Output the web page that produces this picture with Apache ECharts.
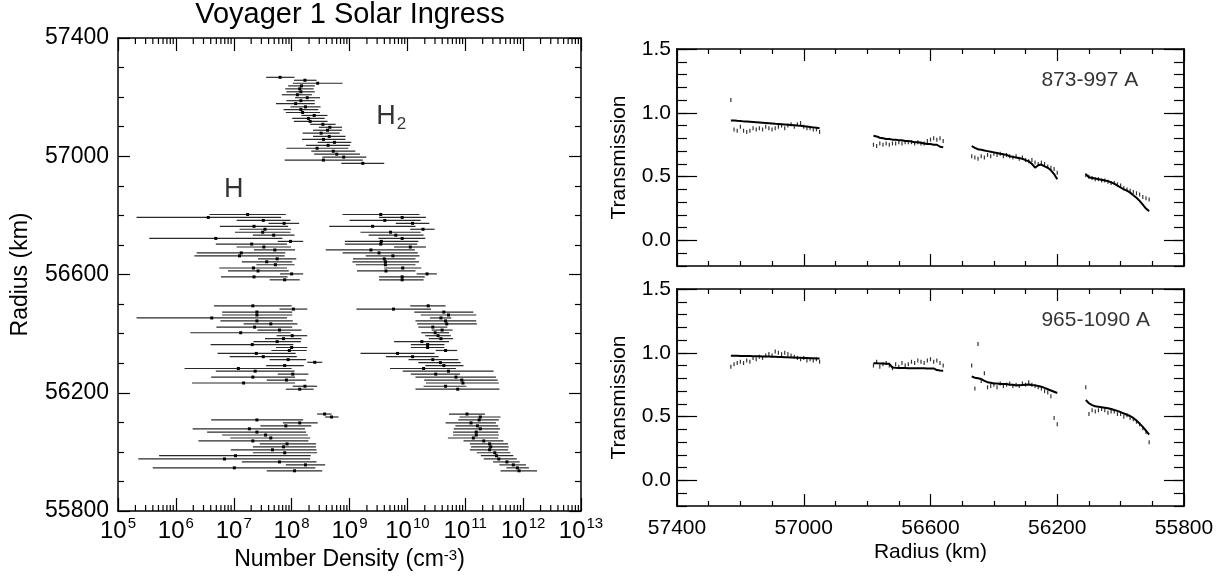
<!DOCTYPE html>
<html>
<head>
<meta charset="utf-8">
<title>Voyager 1 Solar Ingress</title>
<script src="https://cdn.jsdelivr.net/npm/echarts@6/dist/echarts.min.js"></script>
<style>
  html, body { margin: 0; padding: 0; background: #fff; }
  #chart { width: 1229px; height: 577px; }
</style>
</head>
<body>
<div id="chart"></div>
<script>
// ---------------- Left panel: retrieved number densities ----------------
// Each row: [radius (km), lower bound, value, upper bound]; densities as log10(cm^-3)
const h2Top = [
  [57267, 7.56, 7.80, 8.05], [57257, 8.04, 8.23, 8.43], [57247, 8.02, 8.45, 8.88],
  [57238, 7.94, 8.17, 8.40], [57228, 7.89, 8.14, 8.38], [57218, 7.91, 8.16, 8.40],
  [57208, 7.83, 8.10, 8.35], [57198, 8.06, 8.27, 8.49], [57188, 7.91, 8.16, 8.40],
  [57178, 7.73, 8.07, 8.40], [57167, 7.98, 8.24, 8.50], [57158, 7.86, 8.16, 8.46],
  [57148, 7.90, 8.19, 8.49], [57138, 8.17, 8.39, 8.62], [57128, 8.01, 8.29, 8.57],
  [57118, 8.04, 8.32, 8.62], [57108, 8.32, 8.54, 8.76], [57098, 8.47, 8.66, 8.87],
  [57088, 8.37, 8.62, 8.87], [57078, 8.19, 8.51, 8.83], [57067, 8.37, 8.65, 8.93],
  [57057, 8.18, 8.55, 8.93], [57047, 8.45, 8.74, 9.03], [57037, 8.25, 8.63, 9.01],
  [57027, 7.91, 8.44, 8.98], [57017, 8.34, 8.72, 9.10], [57007, 8.39, 8.78, 9.18],
  [56997, 8.53, 8.90, 9.29], [56987, 7.88, 8.55, 9.23], [56976, 8.86, 9.23, 9.60]
];
const hUpper = [
  [56803, 6.58, 7.24, 7.90], [56793, 5.32, 6.56, 7.82], [56783, 7.05, 7.51, 7.98],
  [56773, 7.60, 7.87, 8.13], [56763, 6.76, 7.35, 7.94], [56753, 7.10, 7.54, 7.99],
  [56743, 7.02, 7.50, 7.98], [56733, 7.33, 7.69, 8.05], [56722, 5.54, 6.69, 7.84],
  [56712, 7.76, 7.98, 8.20], [56703, 6.69, 7.31, 7.92], [56693, 7.05, 7.52, 7.99],
  [56683, 7.35, 7.71, 8.06], [56673, 6.36, 7.13, 7.89], [56663, 6.32, 7.10, 7.88],
  [56653, 7.42, 7.75, 8.08], [56643, 7.14, 7.57, 8.01], [56633, 7.39, 7.72, 8.05],
  [56622, 6.75, 7.34, 7.92], [56612, 6.90, 7.42, 7.95], [56602, 7.80, 8.00, 8.20],
  [56592, 6.78, 7.35, 7.93], [56582, 7.62, 7.88, 8.14]
];
const h2Upper = [
  [56803, 8.88, 9.54, 10.21], [56793, 9.51, 9.91, 10.32], [56783, 9.00, 9.61, 10.23],
  [56773, 9.80, 10.09, 10.38], [56763, 8.65, 9.40, 10.14], [56753, 10.05, 10.27, 10.47],
  [56743, 9.19, 9.71, 10.23], [56733, 9.33, 9.80, 10.28], [56722, 9.50, 9.91, 10.31],
  [56712, 8.92, 9.55, 10.19], [56703, 8.92, 9.54, 10.17], [56693, 9.77, 10.05, 10.32],
  [56683, 8.59, 9.37, 10.13], [56673, 8.88, 9.51, 10.18], [56663, 9.28, 9.75, 10.21],
  [56653, 9.06, 9.60, 10.14], [56643, 9.05, 9.62, 10.20], [56633, 9.11, 9.62, 10.14],
  [56622, 9.60, 9.92, 10.24], [56612, 9.13, 9.63, 10.14], [56602, 10.16, 10.34, 10.51],
  [56592, 9.51, 9.91, 10.30], [56582, 9.51, 9.91, 10.28]
];
const hMiddle = [
  [56494, 6.66, 7.33, 8.00], [56483, 7.79, 8.03, 8.27], [56473, 6.80, 7.40, 8.01],
  [56463, 6.80, 7.40, 8.01], [56453, 5.32, 6.62, 7.92], [56443, 6.77, 7.40, 8.02],
  [56433, 7.17, 7.64, 8.10], [56422, 6.70, 7.36, 8.01], [56412, 7.41, 7.79, 8.17],
  [56403, 6.25, 7.12, 7.98], [56393, 7.74, 8.01, 8.27], [56383, 7.54, 7.86, 8.17],
  [56373, 7.34, 7.75, 8.16], [56363, 6.60, 7.32, 8.03], [56353, 7.73, 8.00, 8.27],
  [56343, 7.65, 7.96, 8.26], [56333, 6.72, 7.39, 8.07], [56322, 6.93, 7.51, 8.09],
  [56312, 7.62, 7.94, 8.25], [56303, 8.27, 8.40, 8.53], [56292, 7.56, 7.88, 8.21],
  [56282, 6.15, 7.08, 8.00], [56273, 6.69, 7.37, 8.05], [56263, 7.76, 8.02, 8.29],
  [56253, 6.61, 7.33, 8.06], [56243, 7.57, 7.91, 8.25], [56233, 6.28, 7.17, 8.06],
  [56222, 8.02, 8.23, 8.44], [56212, 7.90, 8.14, 8.38]
];
const h2Middle = [
  [56494, 10.05, 10.36, 10.66], [56483, 9.12, 9.76, 10.41], [56473, 10.12, 10.63, 11.14],
  [56463, 10.23, 10.71, 11.19], [56453, 10.39, 10.58, 10.76], [56443, 10.14, 10.66, 11.19],
  [56433, 10.17, 10.68, 11.20], [56422, 10.19, 10.44, 10.69], [56412, 10.42, 10.60, 10.78],
  [56403, 10.24, 10.48, 10.72], [56393, 10.31, 10.53, 10.75], [56383, 10.37, 10.58, 10.79],
  [56373, 9.77, 10.25, 10.72], [56363, 10.06, 10.35, 10.64], [56353, 10.06, 10.35, 10.64],
  [56343, 10.49, 10.66, 10.86], [56333, 9.19, 9.83, 10.47], [56322, 9.63, 10.09, 10.54],
  [56312, 10.02, 10.44, 10.88], [56302, 10.19, 10.57, 10.92], [56292, 10.31, 10.63, 10.97],
  [56282, 9.70, 10.28, 10.84], [56273, 9.92, 10.71, 11.49], [56263, 10.06, 10.49, 10.91],
  [56253, 10.14, 10.84, 11.53], [56243, 10.29, 10.94, 11.56], [56233, 10.32, 10.96, 11.58],
  [56222, 10.28, 10.66, 11.02], [56212, 10.14, 10.87, 11.59]
];
const hLower = [
  [56128, 8.44, 8.57, 8.69], [56118, 8.58, 8.69, 8.81], [56108, 6.61, 7.40, 8.20],
  [56098, 7.85, 8.14, 8.45], [56088, 7.46, 7.90, 8.34], [56078, 6.29, 7.27, 8.23],
  [56067, 6.54, 7.40, 8.25], [56057, 6.80, 7.55, 8.28], [56047, 6.94, 7.64, 8.32],
  [56037, 6.39, 7.33, 8.29], [56027, 7.45, 7.92, 8.42], [56017, 7.33, 7.86, 8.42],
  [56007, 6.95, 7.67, 8.43], [55997, 7.33, 7.88, 8.44], [55987, 5.71, 7.03, 8.33],
  [55976, 5.35, 6.84, 8.32], [55966, 7.14, 7.79, 8.43], [55956, 7.90, 8.24, 8.58],
  [55946, 5.60, 7.01, 8.41], [55936, 7.57, 8.05, 8.53]
];
const h2Lower = [
  [56128, 10.72, 11.03, 11.34], [56118, 10.90, 11.26, 11.61], [56108, 10.88, 11.24, 11.58],
  [56098, 10.66, 11.10, 11.53], [56088, 10.83, 11.21, 11.57], [56078, 10.80, 11.26, 11.60],
  [56067, 10.79, 11.19, 11.57], [56057, 10.79, 11.19, 11.58], [56047, 10.70, 11.14, 11.57],
  [56037, 10.97, 11.32, 11.66], [56027, 11.08, 11.42, 11.74], [56017, 11.10, 11.44, 11.75],
  [56007, 11.08, 11.42, 11.74], [55997, 11.20, 11.51, 11.78], [55987, 11.27, 11.54, 11.83],
  [55976, 11.32, 11.58, 11.89], [55966, 11.48, 11.72, 11.94], [55956, 11.59, 11.83, 12.05],
  [55946, 11.71, 11.90, 12.10], [55936, 11.61, 11.93, 12.24]
];

// axis ranges and tick labels
const densityExpTicks = [5, 6, 7, 8, 9, 10, 11, 12, 13];   // labelled as 10^n
const radiusTicks = [55800, 56200, 56600, 57000, 57400];
const transmissionTicks = [0, 0.5, 1.0, 1.5];
const minorMantissas = [2, 3, 4, 5, 6, 7, 8, 9];

// ---------------- Right panels: transmission vs radius ----------------
const radiusSeg1 = [57230, 57220, 57210, 57200, 57190, 57180, 57170, 57160, 57150, 57140,
  57130, 57120, 57110, 57100, 57090, 57080, 57070, 57060, 57050, 57040,
  57030, 57020, 57010, 57000, 56990, 56980, 56970, 56960, 56950];
const radiusSeg2 = [56780, 56770, 56760, 56750, 56740, 56730, 56720, 56710, 56700, 56690,
  56680, 56670, 56660, 56650, 56640, 56630, 56620, 56610, 56600, 56590,
  56580, 56570, 56560];
const radiusSeg3 = [56470, 56460, 56450, 56440, 56430, 56420, 56410, 56400, 56390, 56380,
  56370, 56360, 56350, 56340, 56330, 56320, 56310, 56300, 56290, 56280,
  56270, 56260, 56250, 56240, 56230, 56220, 56210, 56200];
const radiusSeg4 = [56110, 56100, 56090, 56080, 56070, 56060, 56050, 56040, 56030, 56020,
  56010, 56000, 55990, 55980, 55970, 55960, 55950, 55940, 55930, 55920, 55910];

// 873-997 A band
const t873Line1 = [0.940, 0.940, 0.937, 0.935, 0.933, 0.932, 0.930, 0.928, 0.926, 0.924,
  0.922, 0.920, 0.918, 0.916, 0.914, 0.913, 0.911, 0.909, 0.907, 0.905,
  0.903, 0.900, 0.898, 0.895, 0.892, 0.889, 0.886, 0.883, 0.880];
const t873Dots1 = [1.10, 0.87, 0.86, 0.89, 0.86, 0.85, 0.86, 0.88, 0.87, 0.88,
  0.87, 0.89, 0.88, 0.87, 0.88, 0.89, 0.90, 0.88, 0.90, 0.91,
  0.89, 0.91, 0.92, 0.89, 0.88, 0.88, 0.87, 0.87, 0.85];
const t873Line2 = [0.820, 0.815, 0.805, 0.800, 0.795, 0.795, 0.790, 0.790, 0.785, 0.785,
  0.780, 0.780, 0.775, 0.770, 0.770, 0.765, 0.760, 0.755, 0.755, 0.750,
  0.750, 0.735, 0.730];
const t873Dots2 = [0.75, 0.74, 0.76, 0.75, 0.76, 0.75, 0.76, 0.76, 0.77, 0.76,
  0.77, 0.77, 0.77, 0.76, 0.77, 0.76, 0.76, 0.78, 0.79, 0.80,
  0.79, 0.80, 0.78];
const t873Line3 = [0.740, 0.725, 0.715, 0.710, 0.705, 0.700, 0.695, 0.690, 0.685, 0.680,
  0.675, 0.670, 0.660, 0.655, 0.650, 0.645, 0.640, 0.630, 0.620, 0.600,
  0.570, 0.590, 0.595, 0.580, 0.570, 0.550, 0.520, 0.480];
const t873Dots3 = [0.66, 0.65, 0.64, 0.66, 0.65, 0.67, 0.66, 0.68, 0.67, 0.68,
  0.66, 0.67, 0.66, 0.65, 0.66, 0.64, 0.65, 0.63, 0.62, 0.63,
  0.61, 0.60, 0.61, 0.60, 0.58, 0.57, 0.56, 0.53];
const t873Line4 = [0.520, 0.495, 0.490, 0.485, 0.480, 0.475, 0.470, 0.465, 0.455, 0.445,
  0.430, 0.415, 0.400, 0.390, 0.375, 0.355, 0.335, 0.310, 0.280, 0.250, 0.230];
const t873Dots4 = [0.51, 0.50, 0.49, 0.48, 0.48, 0.47, 0.47, 0.46, 0.45, 0.45,
  0.44, 0.43, 0.41, 0.40, 0.39, 0.38, 0.37, 0.36, 0.34, 0.33, 0.32];

// 965-1090 A band
const t965Line1 = [0.978, 0.977, 0.977, 0.976, 0.976, 0.975, 0.975, 0.974, 0.974, 0.973,
  0.972, 0.972, 0.971, 0.970, 0.969, 0.968, 0.967, 0.966, 0.965, 0.964,
  0.963, 0.962, 0.961, 0.960, 0.959, 0.958, 0.957, 0.956, 0.955];
const t965Dots1 = [0.89, 0.91, 0.92, 0.93, 0.92, 0.94, 0.93, 0.96, 0.95, 0.97,
  0.96, 0.98, 0.99, 0.98, 1.01, 1.00, 0.99, 1.00, 0.99, 0.98,
  0.97, 0.96, 0.95, 0.96, 0.94, 0.95, 0.94, 0.95, 0.93];
const t965Line2 = [0.918, 0.918, 0.917, 0.916, 0.915, 0.914, 0.885, 0.883, 0.882, 0.882,
  0.881, 0.880, 0.880, 0.880, 0.879, 0.879, 0.879, 0.878, 0.878, 0.878,
  0.865, 0.862, 0.860];
const t965Dots2 = [0.90, 0.93, 0.89, 0.91, 0.92, 0.90, 0.88, 0.91, 0.89, 0.92,
  0.90, 0.91, 0.93, 0.92, 0.94, 0.93, 0.92, 0.94, 0.95, 0.93,
  0.94, 0.92, 0.90];
const t965Line3 = [0.815, 0.805, 0.800, 0.795, 0.780, 0.770, 0.765, 0.760, 0.760, 0.755,
  0.755, 0.755, 0.750, 0.750, 0.745, 0.745, 0.748, 0.750, 0.752, 0.748,
  0.745, 0.740, 0.735, 0.725, 0.715, 0.705, 0.695, 0.685];
const t965Dots3 = [0.90, 0.72, 1.07, 0.78, 0.84, 0.73, 0.74, 0.75, 0.73, 0.76,
  0.74, 0.75, 0.76, 0.74, 0.75, 0.74, 0.76, 0.75, 0.77, 0.75,
  0.74, 0.73, 0.72, 0.70, 0.69, 0.66, 0.49, 0.44];
const t965Line4 = [0.630, 0.605, 0.590, 0.582, 0.578, 0.574, 0.570, 0.565, 0.560, 0.552,
  0.545, 0.535, 0.525, 0.515, 0.505, 0.490, 0.470, 0.445, 0.420, 0.390, 0.360];
const t965Dots4 = [0.73, 0.52, 0.55, 0.54, 0.55, 0.56, 0.55, 0.53, 0.54, 0.54,
  0.52, 0.52, 0.50, 0.51, 0.49, 0.48, 0.46, 0.44, 0.41, 0.38, 0.30];

// ---------------- chart construction ----------------
const FONT = '"Liberation Sans", Arial, Helvetica, sans-serif';
const AXIS_LINE = { show: true, onZero: false, lineStyle: { color: '#000', width: 1.5 } };
const TICK_STYLE = { color: '#000', width: 1.2 };
const plainNumber = v => String(v);
const LEFT_FONT = 23;    // tick labels and axis titles, density panel
const RIGHT_FONT = 21;   // tick labels and axis titles, transmission panels

const radiusSegments = [radiusSeg1, radiusSeg2, radiusSeg3, radiusSeg4];
const bands = [
  { name: '873-997 A', lines: [t873Line1, t873Line2, t873Line3, t873Line4],
    dots: [t873Dots1, t873Dots2, t873Dots3, t873Dots4], xAxisIndex: 2, yAxisIndex: 2 },
  { name: '965-1090 A', lines: [t965Line1, t965Line2, t965Line3, t965Line4],
    dots: [t965Dots1, t965Dots2, t965Dots3, t965Dots4], xAxisIndex: 4, yAxisIndex: 6 }
];

function pairUp(radii, values) {
  return radii.map((r, i) => [r, values[i]]);
}

// horizontal error bar with a small square at the retrieved value
function renderDensityBar(params, api) {
  const r = api.value(0);
  const lo = api.coord([api.value(1), r]);
  const hi = api.coord([api.value(3), r]);
  const c = api.coord([api.value(2), r]);
  return {
    type: 'group',
    children: [
      { type: 'line', shape: { x1: lo[0], y1: lo[1], x2: hi[0], y2: hi[1] },
        style: { stroke: '#2a2a2a', lineWidth: 1.2 } },
      { type: 'rect', shape: { x: c[0] - 1.5, y: c[1] - 1.5, width: 3, height: 3 },
        style: { fill: '#000' } }
    ]
  };
}

// logarithmic minor ticks along top and bottom of the density axis
const minorTickData = [];
for (let n = densityExpTicks[0]; n < densityExpTicks[densityExpTicks.length - 1]; n++) {
  minorMantissas.forEach(k => minorTickData.push([n + Math.log10(k), radiusTicks[0]]));
}
function renderLogMinorTick(params, api) {
  const v = api.value(0);
  const b = api.coord([v, radiusTicks[0]]);
  const t = api.coord([v, radiusTicks[radiusTicks.length - 1]]);
  return {
    type: 'group',
    children: [
      { type: 'line', shape: { x1: b[0], y1: b[1], x2: b[0], y2: b[1] - 6 }, style: { stroke: '#000', lineWidth: 1.2 } },
      { type: 'line', shape: { x1: t[0], y1: t[1], x2: t[0], y2: t[1] + 6 }, style: { stroke: '#000', lineWidth: 1.2 } }
    ]
  };
}

function densityBarSeries(name, rows) {
  return {
    name: name, type: 'custom', xAxisIndex: 0, yAxisIndex: 0,
    renderItem: renderDensityBar, data: rows,
    encode: { x: [1, 2, 3], y: 0 }, clip: false, silent: true
  };
}

const series = [
  densityBarSeries('H2', h2Top),
  densityBarSeries('H', hUpper),
  densityBarSeries('H2', h2Upper),
  densityBarSeries('H', hMiddle),
  densityBarSeries('H2', h2Middle),
  densityBarSeries('H', hLower),
  densityBarSeries('H2', h2Lower),
  {
    type: 'custom', xAxisIndex: 0, yAxisIndex: 0, renderItem: renderLogMinorTick,
    data: minorTickData, encode: { x: 0, y: 1 }, clip: false, silent: true
  },
  {
    type: 'scatter', xAxisIndex: 0, yAxisIndex: 0, symbolSize: 0, silent: true,
    data: [[7.0, 56886]],
    label: { show: true, position: [0, 0], align: 'center', verticalAlign: 'middle',
      formatter: 'H', fontSize: 27, fontFamily: FONT, color: '#000' }
  },
  {
    type: 'scatter', xAxisIndex: 0, yAxisIndex: 0, symbolSize: 0, silent: true,
    data: [[9.72, 57130]],
    label: { show: true, position: [0, 0], align: 'center', verticalAlign: 'middle',
      formatter: '{h|H}{s|2}', color: '#000',
      rich: {
        h: { fontSize: 27, lineHeight: 30, verticalAlign: 'top', fontFamily: FONT, color: '#000' },
        s: { fontSize: 17, lineHeight: 12, verticalAlign: 'bottom', fontFamily: FONT, color: '#000', padding: [0, 0, 0, 1] }
      } }
  }
];

bands.forEach(band => {
  radiusSegments.forEach((radii, i) => {
    series.push({
      type: 'line', xAxisIndex: band.xAxisIndex, yAxisIndex: band.yAxisIndex,
      data: pairUp(radii, band.lines[i]), showSymbol: false, silent: true,
      lineStyle: { color: '#000', width: 2 }
    });
    series.push({
      type: 'scatter', xAxisIndex: band.xAxisIndex, yAxisIndex: band.yAxisIndex,
      data: pairUp(radii, band.dots[i]), symbol: 'rect', symbolSize: [1.2, 4], silent: true,
      itemStyle: { color: '#000' }
    });
  });
  series.push({
    type: 'scatter', xAxisIndex: band.xAxisIndex, yAxisIndex: band.yAxisIndex,
    symbolSize: 0, silent: true, data: [[56250, 1.255]],
    label: { show: true, position: [0, 0], align: 'left', verticalAlign: 'middle',
      formatter: band.name, fontSize: RIGHT_FONT, fontFamily: FONT, color: '#000' }
  });
});

// ---- axes ----
function radiusAxisX(grid, position, showLabels) {
  const ax = {
    type: 'value', gridIndex: grid, position: position, inverse: true,
    min: radiusTicks[0], max: radiusTicks[radiusTicks.length - 1], interval: 400,
    axisLine: AXIS_LINE, splitLine: { show: false },
    axisTick: { show: true, inside: true, length: 12, lineStyle: TICK_STYLE },
    minorTick: { show: true, splitNumber: 4, length: 5, lineStyle: TICK_STYLE },
    axisLabel: { show: showLabels, formatter: plainNumber, fontSize: RIGHT_FONT, fontFamily: FONT, color: '#000', margin: 12 }
  };
  if (showLabels) {
    ax.name = 'Radius (km)';
    ax.nameLocation = 'middle';
    ax.nameGap = 36;
    ax.nameMoveOverlap = false;
    ax.nameTextStyle = { fontSize: RIGHT_FONT, fontFamily: FONT, color: '#000' };
  }
  return ax;
}
function transmissionAxes(grid, position, withLabels) {
  const base = {
    type: 'value', gridIndex: grid, position: position, min: -0.2, max: 1.5,
    axisLine: AXIS_LINE, splitLine: { show: false }
  };
  const minor = Object.assign({}, base, {
    interval: 0.1,
    axisTick: { show: true, inside: true, length: 10, lineStyle: TICK_STYLE },
    axisLabel: { show: false }
  });
  const major = Object.assign({}, base, {
    axisTick: { show: true, inside: true, length: 20, lineStyle: TICK_STYLE, customValues: transmissionTicks },
    axisLabel: { show: withLabels, customValues: transmissionTicks, formatter: v => v.toFixed(1),
      fontSize: RIGHT_FONT, fontFamily: FONT, color: '#000', margin: 6, padding: [12, 0, 0, 0] }
  });
  if (withLabels) {
    major.name = 'Transmission';
    major.nameLocation = 'middle';
    major.nameGap = 47;
    major.nameMoveOverlap = false;
    major.nameTextStyle = { fontSize: RIGHT_FONT, fontFamily: FONT, color: '#000' };
  }
  return [minor, major];
}

const densityLabelRich = {
  b: { fontSize: LEFT_FONT + 1, lineHeight: 27, verticalAlign: 'bottom', fontFamily: FONT, color: '#000' },
  s: { fontSize: 15, lineHeight: 15, verticalAlign: 'top', fontFamily: FONT, color: '#000', padding: [0, 0, 0, 1] }
};

const xAxes = [
  {
    type: 'value', gridIndex: 0, position: 'bottom',
    min: densityExpTicks[0], max: densityExpTicks[densityExpTicks.length - 1], interval: 1,
    axisLine: AXIS_LINE, splitLine: { show: false },
    axisTick: { show: true, inside: true, length: 13, lineStyle: TICK_STYLE },
    axisLabel: { formatter: v => '{b|10}{s|' + v + '}', rich: densityLabelRich, margin: 5 },
    name: 'Number Density (cm{s|-3})', nameLocation: 'middle', nameGap: 37, nameMoveOverlap: false,
    nameTextStyle: { fontSize: LEFT_FONT, fontFamily: FONT, color: '#000',
      rich: { s: { fontSize: 15, lineHeight: 15, verticalAlign: 'top', fontFamily: FONT, color: '#000' } } }
  },
  {
    type: 'value', gridIndex: 0, position: 'top',
    min: densityExpTicks[0], max: densityExpTicks[densityExpTicks.length - 1], interval: 1,
    axisLine: AXIS_LINE, splitLine: { show: false },
    axisTick: { show: true, inside: true, length: 13, lineStyle: TICK_STYLE },
    axisLabel: { show: false }
  },
  radiusAxisX(1, 'bottom', false),
  radiusAxisX(1, 'top', false),
  radiusAxisX(2, 'bottom', true),
  radiusAxisX(2, 'top', false)
];

const yAxes = [
  {
    type: 'value', gridIndex: 0, position: 'left',
    min: radiusTicks[0], max: radiusTicks[radiusTicks.length - 1], interval: 400,
    axisLine: AXIS_LINE, splitLine: { show: false },
    axisTick: { show: true, inside: true, length: 12, lineStyle: TICK_STYLE },
    minorTick: { show: true, splitNumber: 4, length: 6, lineStyle: TICK_STYLE },
    axisLabel: { formatter: plainNumber, fontSize: LEFT_FONT, fontFamily: FONT, color: '#000', margin: 9, padding: [16, 0, 0, 0] },
    name: 'Radius (km)', nameLocation: 'middle', nameGap: 86, nameMoveOverlap: false,
    nameTextStyle: { fontSize: LEFT_FONT, fontFamily: FONT, color: '#000' }
  },
  {
    type: 'value', gridIndex: 0, position: 'right',
    min: radiusTicks[0], max: radiusTicks[radiusTicks.length - 1], interval: 400,
    axisLine: AXIS_LINE, splitLine: { show: false },
    axisTick: { show: true, inside: true, length: 12, lineStyle: TICK_STYLE },
    minorTick: { show: true, splitNumber: 4, length: 6, lineStyle: TICK_STYLE },
    axisLabel: { show: false }
  }
].concat(
  transmissionAxes(1, 'left', true),
  transmissionAxes(1, 'right', false),
  transmissionAxes(2, 'left', true),
  transmissionAxes(2, 'right', false)
);

const chart = echarts.init(document.getElementById('chart'), null, { renderer: 'canvas' });
chart.setOption({
  animation: false,
  backgroundColor: '#fff',
  textStyle: { fontFamily: FONT, color: '#000' },
  title: {
    text: 'Voyager 1 Solar Ingress', left: 350, top: 0, textAlign: 'center', padding: 0,
    textStyle: { fontSize: 29, fontWeight: 'normal', fontFamily: FONT, color: '#000' }
  },
  grid: [
    { left: 118, top: 38, width: 463, height: 473, containLabel: false, outerBoundsMode: 'none' },
    { left: 677, top: 49, width: 507, height: 217, containLabel: false, outerBoundsMode: 'none' },
    { left: 677, top: 289, width: 507, height: 217, containLabel: false, outerBoundsMode: 'none' }
  ],
  xAxis: xAxes,
  yAxis: yAxes,
  series: series
});
</script>
</body>
</html>
